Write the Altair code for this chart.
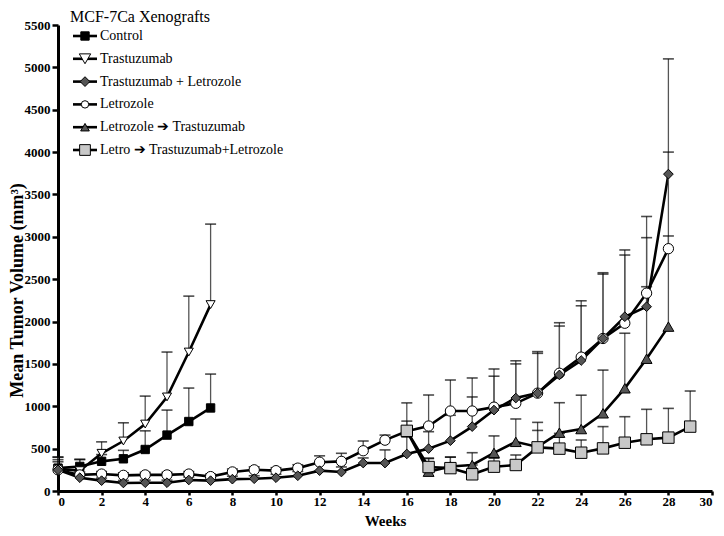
import altair as alt
import pandas as pd

names = ["Control", "Trastuzumab", "Trastuzumab + Letrozole", "Letrozole",
         "Letrozole ➔ Trastuzumab", "Letro ➔ Trastuzumab+Letrozole"]

ctrl_weeks = [0, 1, 2, 3, 4, 5, 6, 7]
ctrl_vals = [270, 290, 350, 380, 490, 660, 820, 980]
ctrl_err = [130, 80, 80, 100, 220, 295, 395, 400]

tras_weeks = [0, 1, 2, 3, 4, 5, 6, 7]
tras_vals = [260, 240, 445, 590, 790, 1110, 1640, 2200]
tras_err = [110, 135, 135, 215, 330, 530, 660, 950]

tl_weeks = list(range(0, 29))
tl_vals = [250, 157, 122, 95, 98, 98, 130, 122, 140, 145, 157, 180, 240, 224, 330,
           330, 437, 500, 594, 760, 955, 1097, 1155, 1370, 1540, 1800, 2057, 2175, 3740]
tl_err = [95, 40, 30, 30, 30, 30, 35, 35, 35, 35, 40, 50, 100, 60, 60,
          155, 200, 200, 300, 350, 400, 440, 470, 577, 646, 760, 788, 1065, 1360]

let_weeks = list(range(0, 29))
let_vals = [250, 190, 200, 185, 190, 190, 200, 170, 225, 250, 240, 270, 340, 350, 475,
            600, 705, 767, 944, 944, 990, 1035, 1155, 1390, 1580, 1800, 1980, 2335, 2860]
let_err = [150, 35, 30, 30, 30, 30, 30, 30, 35, 35, 35, 40, 75, 95, 115,
           60, 120, 366, 366, 390, 450, 465, 490, 596, 665, 776, 805, 655, 1140]

lt_weeks = list(range(16, 29))
lt_vals = [710, 228, 290, 307, 450, 580, 520, 688, 731, 917, 1212, 1561, 1940]
lt_err = [0, 160, 110, 145, 200, 270, 290, 354, 400, 510, 650, 850, 1070]

ltl_weeks = list(range(16, 30))
ltl_vals = [710, 283, 270, 197, 287, 307, 515, 500, 452, 503, 570, 610, 630, 760]
ltl_err = [330, 100, 130, 110, 100, 118, 200, 180, 150, 257, 307, 354, 345, 420]

series_data = [
    (names[0], ctrl_weeks, ctrl_vals, ctrl_err),
    (names[1], tras_weeks, tras_vals, tras_err),
    (names[3], let_weeks, let_vals, let_err),
    (names[2], tl_weeks, tl_vals, tl_err),
    (names[4], lt_weeks, lt_vals, lt_err),
    (names[5], ltl_weeks, ltl_vals, ltl_err),
]

rows = []
for name, wk, vals, errs in series_data:
    for w, v, e in zip(wk, vals, errs):
        rows.append({"series": name, "week": w, "value": v, "err": e, "top": v + e})
df = pd.DataFrame(rows)

shapes = ["square", "triangle-down", "diamond", "circle", "triangle-up", "square"]
fills = ["black", "white", "#555555", "white", "#555555", "#c8c8c8"]
sizes = [70, 130, 95, 55, 75, 115]

FONT = "'Liberation Serif', 'Times New Roman', Times, serif"

x_enc = alt.X("week:Q", scale=alt.Scale(domain=[0, 30], nice=False),
              axis=alt.Axis(values=list(range(0, 31, 2)), title="Weeks", titlePadding=5,
                            format="d", labelPadding=0, tickSize=4))
y_enc = alt.Y("value:Q", scale=alt.Scale(domain=[0, 5500], nice=False),
              axis=alt.Axis(values=list(range(0, 5501, 500)), format="d",
                            title="Mean Tumor Volume (mm³)", titleX=-41, titleY=265,
                            titleBaseline="middle", titleFontSize=18))

base = alt.Chart(df)

err_df = df[df["err"] > 0]
stems = alt.Chart(err_df).mark_rule(color="#555555", strokeWidth=1.3).encode(
    x="week:Q", y=alt.Y("value:Q"), y2="top:Q")
caps = alt.Chart(err_df).mark_tick(orient="horizontal", size=11, thickness=1.6,
                                   color="black").encode(x="week:Q", y=alt.Y("top:Q"))

lines = base.mark_line(color="black", strokeWidth=2.6).encode(
    x=x_enc, y=y_enc, detail="series:N")

points = base.mark_point(filled=True, stroke="black", strokeWidth=1, opacity=1).encode(
    x="week:Q", y="value:Q",
    shape=alt.Shape("series:N", scale=alt.Scale(domain=names, range=shapes), legend=None),
    fill=alt.Fill("series:N", scale=alt.Scale(domain=names, range=fills), legend=None),
    size=alt.Size("series:N", scale=alt.Scale(domain=names, range=sizes), legend=None),
)

one = pd.DataFrame({"k": [0]})
title = alt.Chart(one).mark_text(font=FONT, fontSize=16, align="center", baseline="middle",
                                 color="black").encode(
    x=alt.value(82), y=alt.value(-8), text=alt.value("MCF-7Ca Xenografts"))

legend_layers = []
for i, name in enumerate(names):
    yy = 11 + 22.8 * i
    legend_layers.append(alt.Chart(one).mark_rule(color="black", strokeWidth=2.6).encode(
        x=alt.value(15), x2=alt.value(39), y=alt.value(yy)))
    legend_layers.append(alt.Chart(one).mark_point(
        filled=True, shape=shapes[i], fill=fills[i], stroke="black", strokeWidth=1,
        size=sizes[i], opacity=1).encode(x=alt.value(27), y=alt.value(yy)))
    legend_layers.append(alt.Chart(one).mark_text(
        font=FONT, fontSize=14, align="left", baseline="middle", color="black").encode(
        x=alt.value(42), y=alt.value(yy), text=alt.value(name)))

chart = alt.layer(lines, stems, caps, points, title, *legend_layers).properties(
    width=654, height=466,
    padding={"left": 50, "top": 17, "right": 4, "bottom": 37},
    autosize=alt.AutoSizeParams(type="none"),
).configure_view(stroke=None).configure_axis(
    labelFont=FONT, labelFontSize=13, labelFontWeight="bold", labelColor="black",
    titleFont=FONT, titleFontSize=15, titleFontWeight="bold", titleColor="black",
    domainColor="black", domainWidth=3, tickColor="black", tickWidth=2.5, tickSize=6,
    grid=False, labelPadding=2,
)

chart.save("out.html", embed_options={"renderer": "svg", "actions": False})
